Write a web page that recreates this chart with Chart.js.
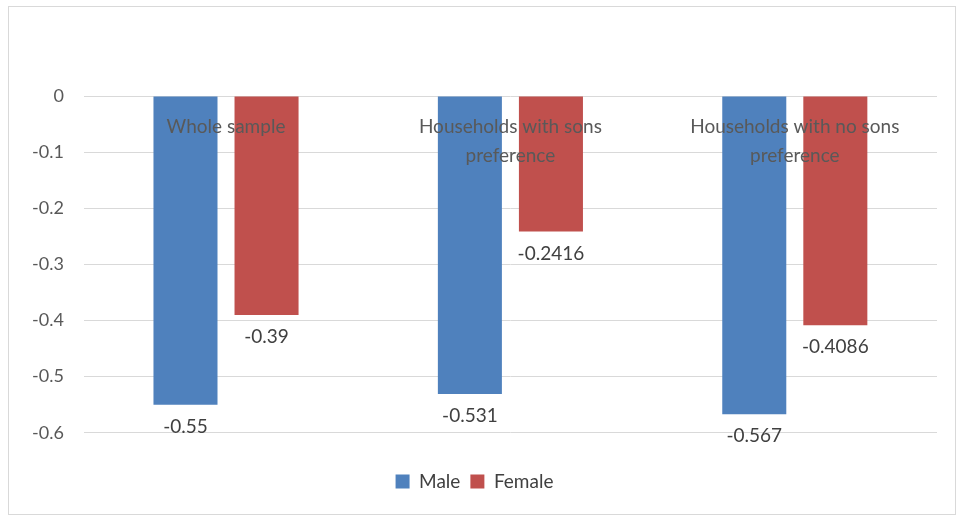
<!DOCTYPE html>
<html><head><meta charset="utf-8">
<script src="https://cdn.jsdelivr.net/npm/chart.js@4"></script>
<style>
body{margin:0;background:#fff;}
#wrap{position:absolute;left:8px;top:6px;width:948px;height:509px;border:1px solid #d9d9d9;box-sizing:border-box;}
#c{position:absolute;left:0;top:0;}
</style></head><body>
<div id="wrap"></div>
<canvas id="c" width="965" height="521"></canvas>
<script>
const categories = ["Whole sample", ["Households with sons","preference"], ["Households with no sons","preference"]];
const maleValues = [-0.55, -0.531, -0.567];
const femaleValues = [-0.39, -0.2416, -0.4086];
const maleLabels = ["-0.55", "-0.531", "-0.567"];
const femaleLabels = ["-0.39", "-0.2416", "-0.4086"];
const FONT = "Lato, 'Open Sans', sans-serif";
const labelPlugin = {
  id:'labels',
  afterDatasetsDraw(chart){
    const ctx = chart.ctx;
    ctx.save();
    ctx.font = "19px " + FONT;
    ctx.fillStyle = "#404040";
    ctx.textAlign = "center";
    ctx.textBaseline = "middle";
    const lbls = [maleLabels, femaleLabels];
    chart.data.datasets.forEach((ds, di) => {
      chart.getDatasetMeta(di).data.forEach((bar, i) => {
        ctx.fillText(lbls[di][i], bar.x, bar.y + 22);
      });
    });
    const x = chart.scales.x, y = chart.scales.y;
    ctx.fillStyle = "#595959";
    categories.forEach((c, i) => {
      const lines = Array.isArray(c) ? c : [c];
      lines.forEach((l, k) => ctx.fillText(l, x.getPixelForValue(i), y.getPixelForValue(0) + 31 + k * 29));
    });
    ctx.restore();
  }
};
new Chart(document.getElementById('c'), {
  type:'bar',
  data:{labels:categories, datasets:[
    {label:'Male', data:maleValues, backgroundColor:'#4f81bd', categoryPercentage:0.57, barPercentage:0.79},
    {label:'Female', data:femaleValues, backgroundColor:'#c0504d', categoryPercentage:0.57, barPercentage:0.79}
  ]},
  options:{
    responsive:false, animation:false,
    layout:{padding:{top:96, right:28, left:12, bottom:20}},
    plugins:{
      legend:{position:'bottom',
        title:{display:true, text:' ', font:{size:1}, padding:{top:0, bottom:28}},
        labels:{font:{size:19, family:FONT}, color:'#404040', boxWidth:14, boxHeight:14, padding:10}},
      tooltip:{enabled:false}
    },
    scales:{
      x:{display:false},
      y:{min:-0.6, max:0, ticks:{stepSize:0.1, font:{size:18, family:FONT}, color:'#595959', padding:20},
         grid:{color:'#d9d9d9', drawTicks:false}, border:{display:false}}
    }
  },
  plugins:[labelPlugin]
});
</script>
</body></html>
